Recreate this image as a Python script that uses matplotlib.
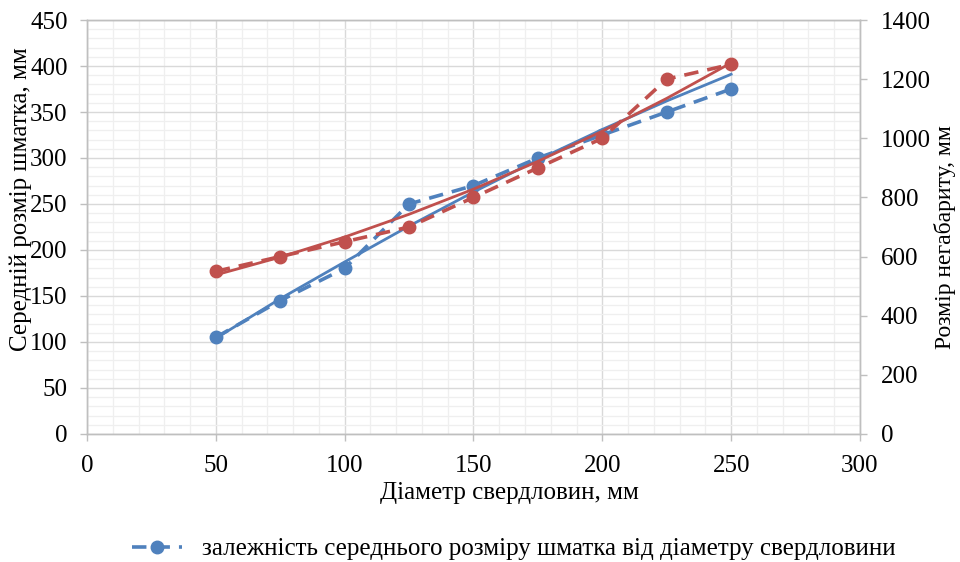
import numpy as np
import matplotlib.pyplot as plt
from matplotlib.ticker import MultipleLocator

# diameters of boreholes, mm
diam = [50, 75, 100, 125, 150, 175, 200, 225, 250]

# average fragment size, mm (left axis)
avg_size = [105, 145, 180, 250, 270, 300, 325, 350, 375]
# trend line for average size
avg_trend = [104, 147, 187, 226, 263, 298, 331, 362, 391]

# oversize fragment size, mm (right axis)
oversize = [550, 600, 650, 700, 800, 900, 1000, 1200, 1250]
# trend line for oversize
over_trend = [538, 598, 666, 743, 828, 922, 1024, 1135, 1255]

xlabel = 'Діаметр свердловин, мм'
ylabel_left = 'Середній розмір шматка, мм'
ylabel_right = 'Розмір негабариту, мм'
legend_text = 'залежність середнього розміру шматка від діаметру свердловини'

blue = '#4F81BD'
red = '#C0504D'
grid_major = '#D9D9D9'
grid_minor = '#EFEFEF'

plt.rcParams['font.family'] = ['Liberation Serif', 'DejaVu Serif']

fig = plt.figure(figsize=(9.6, 5.62), dpi=100)
ax = fig.add_axes([0.0906, 0.2278, 0.8052, 0.7366])
ax2 = ax.twinx()

ax.set_xlim(0, 300)
ax.set_ylim(0, 450)
ax2.set_ylim(0, 1400)

ax.xaxis.set_major_locator(MultipleLocator(50))
ax.xaxis.set_minor_locator(MultipleLocator(10))
ax.yaxis.set_major_locator(MultipleLocator(50))
ax.yaxis.set_minor_locator(MultipleLocator(10))
ax2.yaxis.set_major_locator(MultipleLocator(200))

ax.grid(which='major', color=grid_major, linewidth=1.0, zorder=0)
ax.grid(which='minor', color=grid_minor, linewidth=0.9, zorder=0)
ax.set_axisbelow(True)

for a in (ax, ax2):
    for s in a.spines.values():
        s.set_color('#BFBFBF')
        s.set_linewidth(1.0)

ax.tick_params(which='major', direction='out', length=5, width=1, color='#BFBFBF',
               labelsize=18, pad=9)
ax.tick_params(axis='x', which='major', pad=10)
ax.tick_params(which='minor', length=0)
ax2.tick_params(which='major', direction='out', length=5, width=1, color='#BFBFBF',
                labelsize=18, pad=10)

# data lines
ax.plot(diam, avg_size, color=blue, linestyle=(0, (4, 2.5)), linewidth=2.6,
        marker='o', markersize=9, zorder=3, label=legend_text)
ax.plot(diam, avg_trend, color=blue, linewidth=2.0, zorder=3)

ax2.plot(diam, oversize, color=red, linestyle=(0, (4, 2.5)), linewidth=2.6,
         marker='o', markersize=9, zorder=3)
ax2.plot(diam, over_trend, color=red, linewidth=2.0, zorder=3)

ax.set_xlabel(xlabel, fontsize=18)
ax.xaxis.set_label_coords(0.547, -0.116)
ax.set_ylabel(ylabel_left, fontsize=18)
ax.yaxis.set_label_coords(-0.071, 0.568)
ax2.set_ylabel(ylabel_right, fontsize=17)
ax2.yaxis.set_label_coords(1.096, 0.476)

handles, labels = ax.get_legend_handles_labels()
fig.legend(handles, labels, loc='center', bbox_to_anchor=(0.535, 0.023),
           frameon=False, fontsize=18, handlelength=2.0, handletextpad=0.8)

fig.savefig('out.png', dpi=100)
